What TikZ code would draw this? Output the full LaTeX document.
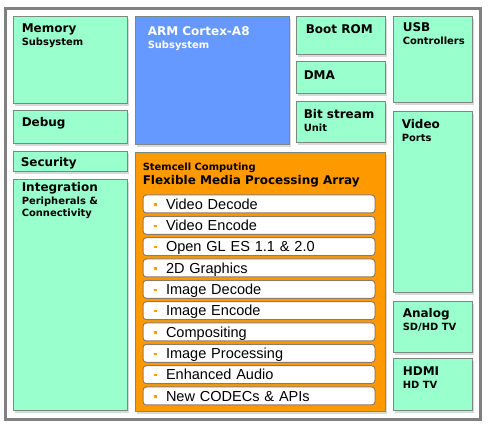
\documentclass[tikz,border=0pt]{standalone}
\usepackage{fontspec}
\newfontfamily\verd{DejaVu Sans}
\newfontfamily\ari{Liberation Sans}
\usetikzlibrary{shadows}
\definecolor{mint}{HTML}{99FFCC}
\definecolor{armblue}{HTML}{6699FF}
\definecolor{fmpaorange}{HTML}{FF9900}
\definecolor{boxline}{HTML}{7A8A82}
\definecolor{itemline}{HTML}{8C7B6A}
\definecolor{framegray}{HTML}{808080}
\definecolor{shade}{HTML}{D8D8D8}
\newcommand\sm{\fontsize{7.45}{9.4}\selectfont}
\newcommand\bg{\fontsize{9}{9.4}\selectfont}
\newcommand\bul{\textcolor{fmpaorange}{\rule[2.65pt]{1.9pt}{1.9pt}}\hspace{7.1pt}}
\begin{document}
\begin{tikzpicture}[x=0.75pt,y=-0.75pt,
    box/.style n args={4}{minimum width={((#3)-(#1))*0.75pt},minimum height={((#4)-(#2))*0.75pt},
      at={({((#1)+(#3))/2},{((#2)+(#4))/2})}},
    blk/.style={draw=boxline,fill=mint,inner sep=0,line width=0.75pt,
      drop shadow={shadow xshift=1.5pt,shadow yshift=-1.5pt,fill=shade,opacity=1}},
    hd/.style={anchor=north west,inner sep=0,align=left,font=\verd\bfseries\bg},
    item/.style={draw=itemline,fill=white,rounded corners=2.5pt,line width=0.75pt,
      inner xsep=8.25pt,inner ysep=0,text width=157.5pt,align=left,
      text height=9pt,text depth=1.1pt,font=\ari\fontsize{10.9}{12}\selectfont}]
    \useasboundingbox (0,0) rectangle (490,431);
    \node[draw=framegray,line width=2.25pt,inner sep=0,box={5.5}{8.5}{480.5}{419.5}] (chip) {};

    % left column
    \node[blk,box={13}{17}{127}{104}] (mem) {};
    \node[blk,box={13}{111}{127}{144}] (dbg) {};
    \node[blk,box={13}{152}{127}{172}] (sec) {};
    \node[blk,box={13}{180}{127}{411}] (integ) {};
    \node[hd] (mem-t) at ([shift={(9,7)}]mem.north west) {Memory\\\sm Subsystem};
    \node[hd] (dbg-t) at ([shift={(9,7)}]dbg.north west) {Debug};
    \node[hd] (sec-t) at ([shift={(8,6)}]sec.north west) {Security};
    \node[hd] (integ-t) at ([shift={(9,3)}]integ.north west) {Integration\\\sm Peripherals \&\\\sm Connectivity};

    % middle
    \node[blk,fill=armblue,box={135}{17}{289}{145}] (arm) {};
    \node[hd,text=white] (arm-t) at ([shift={(13,10)}]arm.north west) {ARM Cortex-A8\\\sm Subsystem};
    \node[blk,box={296}{17}{385}{55}] (boot) {};
    \node[blk,box={296}{62}{385}{94}] (dma) {};
    \node[blk,box={296}{102}{385}{143}] (bits) {};
    \node[hd] (boot-t) at ([shift={(10,8)}]boot.north west) {Boot ROM};
    \node[hd] (dma-t) at ([shift={(8,9)}]dma.north west) {DMA};
    \node[hd] (bits-t) at ([shift={(8,8)}]bits.north west) {Bit stream\\\sm Unit};

    % media array
    \node[blk,fill=fmpaorange,box={135}{153}{385}{412}] (fmpa) {};
    \node[hd] (fmpa-t) at ([shift={(8,10)}]fmpa.north west) {\sm Stemcell Computing\\[1.5pt]\bg Flexible Media Processing Array};
    \foreach \t [count=\i from 0] in {Video Decode,Video Encode,Open GL ES 1.1 \& 2.0,2D Graphics,Image Decode,
        Image Encode,Compositing,Image Processing,Enhanced Audio,New CODECs \& APIs}
      \node[item,box={143}{195+21.33*\i}{375}{213+21.33*\i}] (it\i) {\bul\t};

    % right column
    \node[blk,box={393}{17}{472}{103}] (usb) {};
    \node[blk,box={393}{112}{472}{293}] (vid) {};
    \node[blk,box={393}{302}{472}{353}] (ana) {};
    \node[blk,box={393}{359}{472}{411}] (hdmi) {};
    \node[hd] (usb-t) at ([shift={(10,6)}]usb.north west) {USB\\\sm Controllers};
    \node[hd] (vid-t) at ([shift={(9,8)}]vid.north west) {Video\\\sm Ports};
    \node[hd] (ana-t) at ([shift={(10,7)}]ana.north west) {Analog\\\sm SD/HD TV};
    \node[hd] (hdmi-t) at ([shift={(10,8)}]hdmi.north west) {HDMI\\\sm HD TV};
\end{tikzpicture}
\end{document}
